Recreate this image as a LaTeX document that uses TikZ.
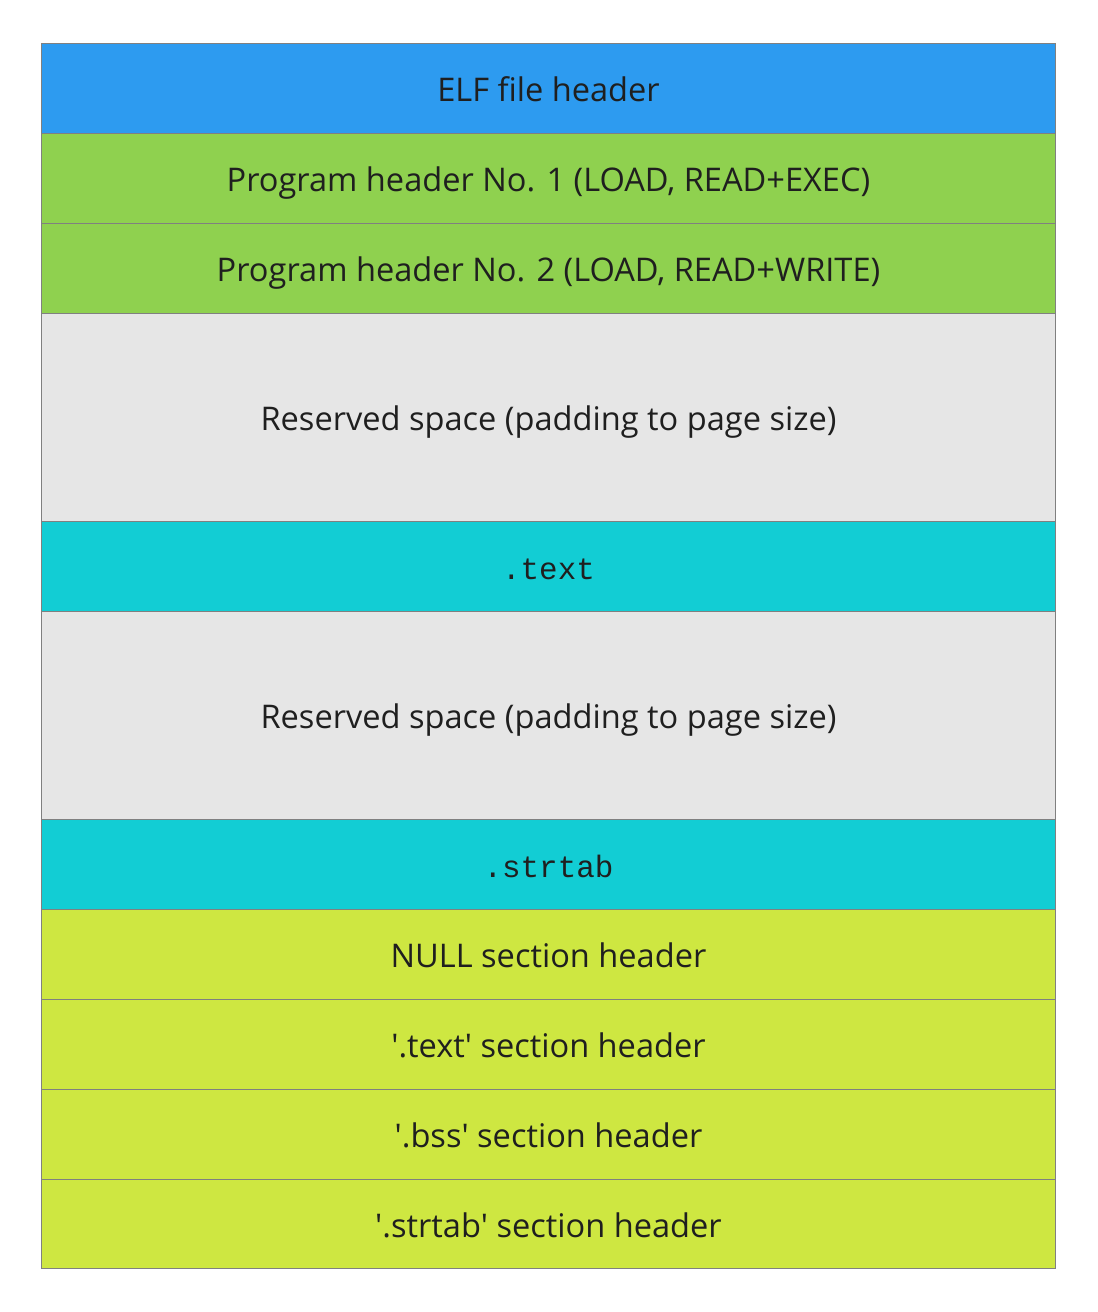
\documentclass[tikz,border=0pt]{standalone}
\usepackage{fontspec}
\setmainfont{Open Sans}
\setmonofont{Liberation Mono}
% same face without TeX ligature mapping, for upright single quotes
\newfontfamily\quotefont{Open Sans}
\definecolor{hdrblue}{HTML}{2D9BF0}
\definecolor{phgreen}{HTML}{8FD14F}
\definecolor{padgray}{HTML}{E6E6E6}
\definecolor{seccyan}{HTML}{12CDD4}
\definecolor{shlime}{HTML}{CEE741}
\definecolor{edgegray}{HTML}{808080}
\definecolor{txt}{HTML}{1F1F1F}
\newcommand{\sq}{{\quotefont'}}
\begin{document}
\begin{tikzpicture}[x=1bp,y=-1bp,
  cell/.style={draw=edgegray,line width=1bp,minimum width=1014bp,inner sep=0pt,anchor=north west,text=txt,
    text height=26bp,text depth=0bp,font=\fontsize{32.7}{38}\selectfont},
  mono/.style={font=\fontsize{31}{36}\selectfont\ttfamily}]
\useasboundingbox[fill=white] (0,0) rectangle (1097,1312);
\node[cell,fill=hdrblue,minimum height=90bp] (elf) at (41,43) {ELF file header};
\node[cell,fill=phgreen,minimum height=90bp] (ph1) at (41,133) {Program header No. 1 (LOAD, READ+EXEC)};
\node[cell,fill=phgreen,minimum height=90bp] (ph2) at (41,223) {Program header No. 2 (LOAD, READ+WRITE)};
\node[cell,fill=padgray,minimum height=208bp] (pad1) at (41,313) {Reserved space (padding to page size)};
\node[cell,fill=seccyan,minimum height=90bp,mono] (text) at (41,521) {.text};
\node[cell,fill=padgray,minimum height=208bp] (pad2) at (41,611) {Reserved space (padding to page size)};
\node[cell,fill=seccyan,minimum height=90bp,mono] (strtab) at (41,819) {.strtab};
\node[cell,fill=shlime,minimum height=90bp] (shnull) at (41,909) {NULL section header};
\node[cell,fill=shlime,minimum height=90bp] (shtext) at (41,999) {\sq.text\sq{} section header};
\node[cell,fill=shlime,minimum height=90bp] (shbss) at (41,1089) {\sq.bss\sq{} section header};
\node[cell,fill=shlime,minimum height=89bp] (shstr) at (41,1179) {\sq.strtab\sq{} section header};
\end{tikzpicture}
\end{document}
